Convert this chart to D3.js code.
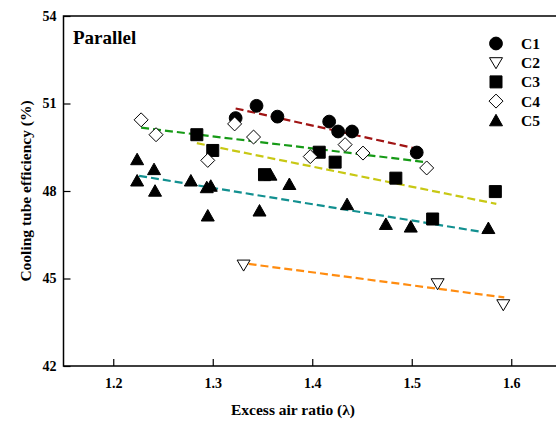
<!DOCTYPE html>
<meta charset="utf-8">
<script src="https://d3js.org/d3.v7.min.js"></script>
<style>
  body { margin: 0; background: #fff; }
  text { font-family: "Liberation Serif", "Times New Roman", serif; font-weight: bold; }
</style>
<div id="chart"></div>
<script>
// data
const c1x = [1.323, 1.344, 1.365, 1.417, 1.426, 1.440, 1.505];
const c1y = [50.50, 50.92, 50.55, 50.38, 50.04, 50.04, 49.32];
const c2x = [1.331, 1.526, 1.592];
const c2y = [45.46, 44.82, 44.10];
const c3x = [1.284, 1.300, 1.352, 1.407, 1.423, 1.484, 1.521, 1.584];
const c3y = [49.93, 49.39, 48.56, 49.33, 48.99, 48.44, 47.04, 47.98];
const c4x = [1.228, 1.243, 1.295, 1.322, 1.341, 1.398, 1.433, 1.451, 1.515];
const c4y = [50.44, 49.93, 49.05, 50.30, 49.85, 49.18, 49.59, 49.30, 48.79];
const c5x = [1.224, 1.224, 1.241, 1.242, 1.278, 1.294, 1.298, 1.295, 1.347, 1.358, 1.377, 1.435, 1.474, 1.499, 1.577];
const c5y = [49.09, 48.36, 48.75, 48.01, 48.36, 48.13, 48.18, 47.16, 47.33, 48.56, 48.24, 47.55, 46.87, 46.78, 46.73];

// dashed trend lines: [x0, x1], [y0, y1]
const fitX = [[1.323, 1.505], [1.336, 1.593], [1.284, 1.585], [1.228, 1.514], [1.226, 1.577]];
const fitY = [[50.83, 49.45], [45.50, 44.35], [49.64, 47.56], [50.17, 48.99], [48.52, 46.56]];
const fitColors = ["#a01414", "#ff8c10", "#c8c814", "#169a16", "#129090"];

const seriesNames = ["C1", "C2", "C3", "C4", "C5"];
const xTicks = [1.2, 1.3, 1.4, 1.5, 1.6];
const yTicks = [42, 45, 48, 51, 54];

const margin = {top: 16, left: 63.5},
      width = 497.5, height = 350;

const svg = d3.select("#chart").append("svg")
  .attr("width", 556).attr("height", 423);
const g = svg.append("g").attr("transform", `translate(${margin.left},${margin.top})`);

const x = d3.scaleLinear().domain([1.15, 1.65]).range([0, width]);
const y = d3.scaleLinear().domain([42, 54]).range([height, 0]);

// marker shapes
const shapes = {
  C1: {d: "M0,-6.4A6.4,6.4 0 1,1 0,6.4A6.4,6.4 0 1,1 0,-6.4Z", fill: "#000"},
  C2: {d: "M-6.5,-5L6.5,-5L0,6Z", fill: "#fff"},
  C3: {d: "M-6,-6H6V6H-6Z", fill: "#000"},
  C4: {d: "M0,-7L7,0L0,7L-7,0Z", fill: "#fff"},
  C5: {d: "M0,-6L6.5,5.5L-6.5,5.5Z", fill: "#000"}
};

// trend lines
fitX.forEach((fx, i) => {
  g.append("line")
    .attr("x1", x(fx[0])).attr("y1", y(fitY[i][0]))
    .attr("x2", x(fx[1])).attr("y2", y(fitY[i][1]))
    .attr("stroke", fitColors[i])
    .attr("stroke-width", 2.2)
    .attr("stroke-dasharray", "8,4");
});

const xs = [c1x, c2x, c3x, c4x, c5x], ys = [c1y, c2y, c3y, c4y, c5y];
seriesNames.forEach((name, i) => {
  const pts = xs[i].map((v, j) => [v, ys[i][j]]);
  g.append("g").selectAll("path")
    .data(pts)
    .join("path")
    .attr("transform", d => `translate(${x(d[0])},${y(d[1])})`)
    .attr("d", shapes[name].d)
    .attr("fill", shapes[name].fill)
    .attr("stroke", "#000")
    .attr("stroke-width", 1);
});

// frame
g.append("path")
  .attr("d", `M${width + 10},0H0V${height}H${width + 10}`)
  .attr("fill", "none").attr("stroke", "#000").attr("stroke-width", 1.5);

// axes with inward ticks
const xAxis = g.append("g").attr("transform", `translate(0,${height})`)
  .call(d3.axisBottom(x).tickValues(xTicks).tickFormat(d3.format(".1f")).tickSizeInner(-7).tickSizeOuter(0).tickPadding(12));
const yAxis = g.append("g")
  .call(d3.axisLeft(y).tickValues(yTicks).tickSizeInner(-7).tickSizeOuter(0).tickPadding(7));
[xAxis, yAxis].forEach(a => {
  a.select(".domain").remove();
  a.selectAll("line").attr("stroke", "#000").attr("stroke-width", 1.2);
  a.selectAll("text").attr("fill", "#000").style("font-size", "14px")
    .style("font-family", "Liberation Serif, serif").style("font-weight", "bold");
});

// labels
g.append("text").attr("x", 9.5).attr("y", 28).style("font-size", "19px").text("Parallel");

svg.append("text")
  .attr("x", 293).attr("y", 415)
  .attr("text-anchor", "middle").style("font-size", "15.5px")
  .text("Excess air ratio (λ)");

svg.append("text")
  .attr("transform", `translate(31,${margin.top + height / 2}) rotate(-90)`)
  .attr("text-anchor", "middle").style("font-size", "15.5px")
  .text("Cooling tube efficiency (%)");

// legend
seriesNames.forEach((name, i) => {
  const ly = 43.5 + i * 19.2;
  svg.append("path")
    .attr("transform", `translate(496,${ly})`)
    .attr("d", shapes[name].d)
    .attr("fill", shapes[name].fill)
    .attr("stroke", "#000").attr("stroke-width", 1);
  svg.append("text")
    .attr("x", 521).attr("y", ly + 5.5)
    .style("font-size", "15.5px")
    .text(name);
});
</script>
